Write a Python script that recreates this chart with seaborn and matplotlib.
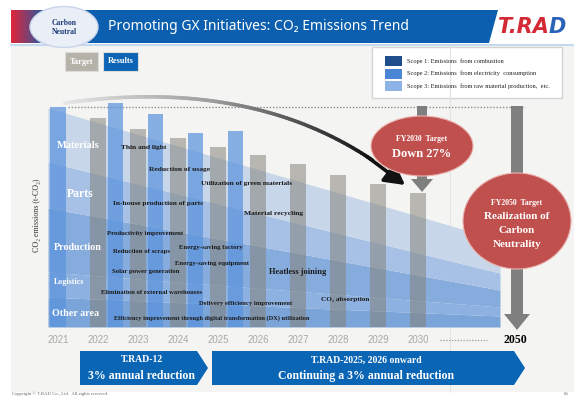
import numpy as np
import matplotlib
matplotlib.use("Agg")
import matplotlib.pyplot as plt
import seaborn as sns
from matplotlib.patches import Polygon, Ellipse, Rectangle, FancyArrow
from matplotlib.collections import LineCollection
from matplotlib.colors import LinearSegmentedColormap

# ---- data (index, FY2021 results = 100) ----
target_years = [2022, 2023, 2024, 2025, 2026, 2027, 2028, 2029, 2030]
target_values = [95, 90, 86, 82, 78, 74, 69, 65, 61]
result_years = [2021, 2022, 2023, 2024, 2025]
result_values = [100, 102, 97, 88, 89]

# emission areas, thickness at the left (2021) and right end of the wedge
band_names = ["Other area", "Logistics", "Production", "Parts", "Materials"]
band_start = [13.6, 11.4, 29.1, 20.9, 24.5]
band_end = [5.0, 4.1, 7.7, 7.7, 15.0]
band_colors = ["#7ba4d9", "#8db1e0", "#86abdd", "#a6c1e5", "#c8d6e9"]

year_labels = ["2021", "2022", "2023", "2024", "2025", "2026", "2027", "2028", "2029", "2030"]

scope_labels = ["Scope 1: Emissions  from combustion",
                "Scope 2: Emissions  from electricity  consumption",
                "Scope 3: Emissions  from raw material production,  etc."]
scope_colors = ["#1f4e8c", "#4a86d4", "#8db3e6"]

measures = [("Thin and light", 121, 147, 5.4), ("Reduction of usage", 149, 169, 5.4),
            ("Utilization of green materials", 201, 183, 5.3),
            ("In-house production of parts", 113, 204, 5.3), ("Material recycling", 244, 213, 5.4),
            ("Productivity improvement", 107, 233, 4.9), ("Reduction of scraps", 113, 252, 4.9),
            ("Energy-saving factory", 179, 248, 4.9), ("Energy-saving equipment", 175, 263, 4.9),
            ("Solar power generation", 112, 272, 4.9), ("Heatless joining", 269, 272, 6.0),
            ("Elimination of external warehouses", 101, 293, 4.8),
            ("Delivery efficiency improvement", 199, 304, 4.8), ("CO₂ absorption", 321, 299, 5.2),
            ("Efficiency improvement through digital transformation (DX) utilization", 114, 318, 4.6)]
band_label_pos = {"Materials": (78, 146, 7.5), "Parts": (80, 194, 8.5), "Production": (78, 247, 7.2),
                  "Logistics": (69, 282, 5.8), "Other area": (76, 314, 7.2)}

SERIF = ["Liberation Serif", "DejaVu Serif"]
W, H = 574, 400

sns.set_theme(style="white")
plt.rcParams["font.family"] = ["Liberation Serif", "DejaVu Serif"]

fig = plt.figure(figsize=(5.74, 4.0), dpi=100)
fig.patch.set_facecolor("white")


def pix_axes(z):
    a = fig.add_axes([0, 0, 1, 1], zorder=z)
    a.set_xlim(0, W)
    a.set_ylim(H, 0)
    a.axis("off")
    a.patch.set_alpha(0)
    return a


bg = pix_axes(0)
ax = fig.add_axes([0, 0, 1, 1], zorder=1)
top = pix_axes(2)

# data axes: 2021 at px 58, 40 px per year, zero at px 327, 2.2 px per unit
x0, y0, ppy, ppu = 58, 327, 40, 2.2
def px2x(px):
    return 2021 + (px - x0) / ppy
def py2y(py):
    return (y0 - py) / ppu

# ---- background / header ----
bg.add_patch(Rectangle((11, 45), W - 11, 347, color="#f4f4f2", lw=0))
bg.plot([450, 450], [45, 392], color="#e3e3e3", lw=0.8)
bg.plot([11, W], [45, 45], color="#c4d8ee", lw=1.5)
bg.add_patch(Polygon([(11, 10), (498, 10), (489, 43), (11, 43)], color="#0b5fae", lw=0))
grad = np.linspace(0, 1, 50)[None, :]
cmap = LinearSegmentedColormap.from_list("rb", ["#e0263a", "#0b5fae"])
bg.imshow(grad, cmap=cmap, extent=(11, 48, 43, 10), aspect="auto", zorder=1)
bg.add_patch(Ellipse((64, 27), 68, 41, fc="#e9eef7", ec="#c9d5ea", lw=1, zorder=2))
bg.text(64, 27.5, "Carbon\nNeutral", ha="center", va="center", fontsize=5.5, color="#1f3c78",
        fontweight="bold", family=SERIF, linespacing=1.3, zorder=3)
bg.text(258, 27, "Promoting GX Initiatives: CO₂ Emissions Trend", ha="center", va="center",
        fontsize=10, color="white", family=["Noto Sans", "DejaVu Sans"], zorder=3)
bg.text(549, 27, "T.RA", ha="right", va="center", fontsize=15, color="#d42a35",
        fontweight="bold", style="italic", family="DejaVu Sans")
bg.text(549, 27, "D", ha="left", va="center", fontsize=15, color="#2a62b8",
        fontweight="bold", style="italic", family="DejaVu Sans")
bg.set_xlim(0, W)
bg.set_ylim(H, 0)

# Target / Results keys
bg.add_patch(Rectangle((65, 52), 33, 19, fc="#b5b3a9", ec="#dcdcdc", lw=0.8))
bg.text(81.5, 61.5, "Target", ha="center", va="center", fontsize=6, color="white",
        fontweight="bold", family=SERIF)
bg.add_patch(Rectangle((103, 52), 35, 19, fc="#0b64b4", ec="#dcdcdc", lw=0.8))
bg.text(120.5, 61, "Results", ha="center", va="center", fontsize=6, color="white",
        fontweight="bold", family=SERIF)

# Scope legend
bg.add_patch(Rectangle((372, 47), 190, 51, fc="white", ec="#d4d4d4", lw=1))
for i, (lab, col) in enumerate(zip(scope_labels, scope_colors)):
    yy = 61 + i * 12.5
    bg.add_patch(Rectangle((385, yy - 5), 17, 10, fc=col, lw=0))
    bg.text(407, yy, lab, va="center", fontsize=4.6, color="#222", family=SERIF)

bg.text(37, 215, "CO₂ emissions (t-CO₂)", rotation=90, ha="center", va="center",
        fontsize=5.8, color="#333", family=SERIF)

# ---- data layer: wedge of emission areas + bars ----
bx = [px2x(48), px2x(500)]
lo = np.zeros(2)
for name, s, e, c in zip(band_names, band_start, band_end, band_colors):
    hi = lo + np.array([s, e])
    ax.fill_between(bx, lo, hi, color=c, lw=0, zorder=2)
    lo = hi

ax.plot([px2x(68), px2x(525)], [result_values[0], result_values[0]], ls=(0, (1, 1.3)),
        color="#8c8c8c", lw=1, zorder=1.5)

sns.barplot(x=target_years, y=target_values, native_scale=True, width=0.4, color="#85837a",
            saturation=1, alpha=0.55, linewidth=0, errorbar=None, zorder=3, ax=ax)
res_pos = [y + (0.44 if y in target_years else 0) for y in result_years]
sns.barplot(x=res_pos, y=result_values, native_scale=True, width=0.38, color="#5b93dd",
            saturation=1, alpha=0.72, linewidth=0, errorbar=None, zorder=3, ax=ax)

for lab in year_labels:
    ax.text(int(lab), py2y(340), lab, ha="center", va="center", fontsize=7, color="#a8a8a8",
            family=["Liberation Sans Narrow", "Liberation Sans"])

ax.set_xlim(px2x(0), px2x(W))
ax.set_ylim(py2y(H), py2y(0))
ax.axis("off")
ax.patch.set_alpha(0)

# ---- top layer: labels, arrows, targets ----
for name in band_names:
    px, py, fs = band_label_pos[name]
    top.text(px, py, name, ha="center", va="center", fontsize=fs, color="white",
             fontweight="bold", family=SERIF)
for txt, px, py, fs in measures:
    top.text(px, py, txt, ha="left", va="center", fontsize=fs, color="#1a1a1a",
             fontweight="bold", family=SERIF)

# curved trend arrow (gray to black)
P = np.array([(65, 103), (170, 88), (300, 95), (405, 185)], dtype=float)
t = np.linspace(0, 1, 120)[:, None]
pts = (1 - t) ** 3 * P[0] + 3 * (1 - t) ** 2 * t * P[1] + 3 * (1 - t) * t ** 2 * P[2] + t ** 3 * P[3]
cut = 108
segs = np.stack([pts[:cut - 1], pts[1:cut]], axis=1)
gcmap = LinearSegmentedColormap.from_list("gk", ["#e6e6e6", "#9a9a9a", "#111111"])
lc = LineCollection(segs, colors=gcmap(np.linspace(0, 1, cut - 1)), lw=2.6, capstyle="round")
top.add_collection(lc)
top.annotate("", xy=P[3], xytext=pts[cut - 3], arrowprops=dict(
    arrowstyle="-|>,head_length=1.0,head_width=0.55", color="#111111", lw=2.6,
    mutation_scale=12, shrinkA=0, shrinkB=0))

# FY2030 target
top.add_patch(FancyArrow(422, 106, 0, 86, width=10, head_width=22, head_length=13,
                         length_includes_head=True, color="#7f7f7f", lw=0, zorder=2))
top.add_patch(Ellipse((422, 146), 102, 60, fc="#c0504d", ec="#eab3b0", lw=0.8, zorder=3))
top.text(422, 139, "FY2030  Target", ha="center", va="center", fontsize=5.6, color="white",
         fontweight="bold", family=SERIF, zorder=4)
top.text(422, 154, "Down 27%", ha="center", va="center", fontsize=9, color="white",
         fontweight="bold", family=SERIF, zorder=4)

# FY2050 target
top.add_patch(FancyArrow(517, 106, 0, 224, width=12, head_width=26, head_length=16,
                         length_includes_head=True, color="#7f7f7f", lw=0, zorder=2))
top.add_patch(Ellipse((517, 221), 108, 96, fc="#c0504d", ec="#eab3b0", lw=0.8, zorder=3))
top.text(517, 203, "FY2050  Target", ha="center", va="center", fontsize=5.6, color="white",
         fontweight="bold", family=SERIF, zorder=4)
for i, line in enumerate(["Realization of", "Carbon", "Neutrality"]):
    top.text(517, 216.5 + i * 14, line, ha="center", va="center", fontsize=8, color="white",
             fontweight="bold", family=SERIF, zorder=4)

# axis end: ... 2050
top.plot([440, 487], [340, 340], ls=(0, (1, 1.3)), color="#9a9a9a", lw=0.9)
top.text(515, 340, "2050", ha="center", va="center", fontsize=8.5, color="black",
         fontweight="bold", family=SERIF)

# plan chevrons
blue = "#0a65b5"
top.add_patch(Polygon([(80, 351), (197, 351), (208, 368), (197, 385), (80, 385)], color=blue, lw=0))
top.add_patch(Polygon([(212, 351), (514, 351), (525, 368), (514, 385), (212, 385)], color=blue, lw=0))
top.text(142, 360, "T.RAD-12", ha="center", va="center", fontsize=7, color="white",
         fontweight="bold", family=SERIF)
top.text(142, 376, "3% annual reduction", ha="center", va="center", fontsize=8.5, color="white",
         fontweight="bold", family=SERIF)
top.text(366, 360, "T.RAD-2025, 2026 onward", ha="center", va="center", fontsize=7, color="white",
         fontweight="bold", family=SERIF)
top.text(366, 376, "Continuing a 3% annual reduction", ha="center", va="center", fontsize=8.5,
         color="white", fontweight="bold", family=SERIF)

bg.text(12, 394, "Copyright © T.RAD Co., Ltd.  All rights reserved.", va="center", fontsize=3.4,
        color="#666", family=SERIF)
bg.text(568, 394, "66", ha="right", va="center", fontsize=3.4, color="#666", family=SERIF)

fig.savefig("out.png", dpi=100)
